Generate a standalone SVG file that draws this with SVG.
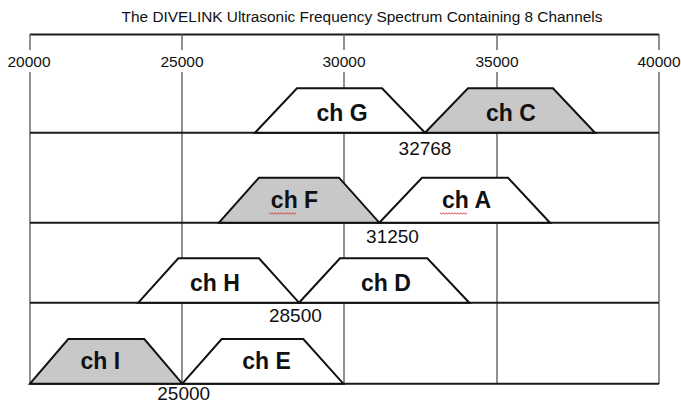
<svg xmlns="http://www.w3.org/2000/svg" width="681" height="403" viewBox="0 0 681 403">
<style>
.title{font-family:"Liberation Sans",Arial,sans-serif;font-size:15.4px;fill:#111;text-anchor:middle}
.ax{font-family:"Liberation Sans",Arial,sans-serif;font-size:15.5px;fill:#111;text-anchor:middle}
.num{font-family:"Liberation Sans",Arial,sans-serif;font-size:19px;fill:#111;text-anchor:middle}
.ch{font-family:"Liberation Sans",Arial,sans-serif;font-size:23px;font-weight:bold;fill:#111;text-anchor:middle}
.vl{stroke:#555;stroke-width:1.3;fill:none}
.hl{stroke:#1a1a1a;stroke-width:2;fill:none}
.tw{fill:#fff;stroke:#111;stroke-width:2;stroke-linejoin:miter}
.tg{fill:#c8c8c8;stroke:#111;stroke-width:2;stroke-linejoin:miter}
.sq{fill:none;stroke:#d03030;stroke-width:0.9}
</style>
<rect width="681" height="403" fill="#fff"/>
<text class="title" x="362" y="22">The DIVELINK Ultrasonic Frequency Spectrum Containing 8 Channels</text>
<g id="grid">
<line class="hl" x1="30" y1="34.5" x2="659" y2="34.5"/>
<path class="vl" d="M30 34V50M30 72V384M182 34V50M182 72V384M344 34V50M344 72V384M497 34V50M497 72V384M659 34V50M659 72V384"/>
<line class="hl" x1="30" y1="132.7" x2="659" y2="132.7"/>
<line class="hl" x1="30" y1="222.7" x2="659" y2="222.7"/>
<line class="hl" x1="30" y1="302.7" x2="659" y2="302.7"/>
<line class="hl" x1="30" y1="383.7" x2="659" y2="383.7"/>
</g>
<g id="axis-labels">
<text class="ax" x="29" y="67">20000</text>
<text class="ax" x="182" y="67">25000</text>
<text class="ax" x="344" y="67">30000</text>
<text class="ax" x="497" y="67">35000</text>
<text class="ax" x="659" y="67">40000</text>
</g>
<g id="chG"><polygon class="tw" points="255,132.7 297,88.3 382,88.3 425,132.7"/><text class="ch" x="342" y="120.5">ch G</text></g>
<g id="chC"><polygon class="tg" points="425,132.7 468,88.3 553,88.3 595,132.7"/><text class="ch" x="511" y="120.5">ch C</text></g>
<g id="chF"><polygon class="tg" points="219,222.7 259,177.7 339,177.7 379.3,222.7"/><text class="ch" x="294.5" y="208.3">ch F</text><path class="sq" d="M269 212.8l1.5 1.2 1.5-1.2 1.5 1.2 1.5-1.2 1.5 1.2 1.5-1.2 1.5 1.2 1.5-1.2 1.5 1.2 1.5-1.2 1.5 1.2 1.5-1.2 1.5 1.2 1.5-1.2 1.5 1.2 1.5-1.2 1.5 1.2 1.5-1.2"/></g>
<g id="chA"><polygon class="tw" points="379.3,222.7 422,177.7 508,177.7 550,222.7"/><text class="ch" x="466.5" y="208.3">ch A</text><path class="sq" d="M440 212.8l1.5 1.2 1.5-1.2 1.5 1.2 1.5-1.2 1.5 1.2 1.5-1.2 1.5 1.2 1.5-1.2 1.5 1.2 1.5-1.2 1.5 1.2 1.5-1.2 1.5 1.2 1.5-1.2 1.5 1.2 1.5-1.2 1.5 1.2 1.5-1.2"/></g>
<g id="chH"><polygon class="tw" points="138.3,302.7 178.3,258.3 259,258.3 299,302.7"/><text class="ch" x="215" y="291">ch H</text></g>
<g id="chD"><polygon class="tw" points="299,302.7 340,258.3 427.3,258.3 469.3,302.7"/><text class="ch" x="386" y="291">ch D</text></g>
<g id="chI"><polygon class="tg" points="30,383.7 68.3,339 144.3,339 182.3,383.7"/><text class="ch" x="100.3" y="369.3">ch I</text></g>
<g id="chE"><polygon class="tw" points="182.3,383.7 221.7,339 303.3,339 343.3,383.7"/><text class="ch" x="266.5" y="369.3">ch E</text></g>
<g id="boundaries">
<text class="num" x="425" y="155">32768</text>
<text class="num" x="392.5" y="243">31250</text>
<text class="num" x="295.4" y="321.7">28500</text>
<text class="num" x="183.7" y="399.5">25000</text>
</g>
</svg>
